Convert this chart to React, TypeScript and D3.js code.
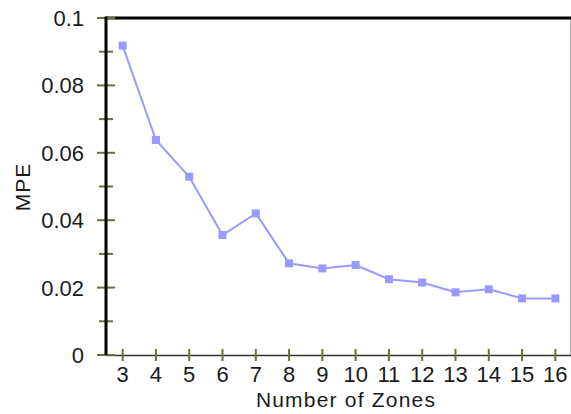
import React from "react";
import * as d3 from "d3";

const zones = [3, 4, 5, 6, 7, 8, 9, 10, 11, 12, 13, 14, 15, 16];
const mpe = [0.0918, 0.0638, 0.0529, 0.0356, 0.042, 0.0272, 0.0257, 0.0267, 0.0225, 0.0215, 0.0186, 0.0195, 0.0168, 0.0168];
const yTickLabels = [0, 0.02, 0.04, 0.06, 0.08, 0.1];
const yMinorTicks = [0.01, 0.03, 0.05, 0.07, 0.09];
const xTitle = "Number of Zones";
const yTitle = "MPE";

const W = 571;
const H = 414;
const left = 106;
const right = 572;
const top = 18;
const bottom = 355;
const font = "'Liberation Sans', Arial, sans-serif";
const tickColor = "#6e6e3e";

export default function App() {
  const x = d3.scaleLinear().domain([2.5, 16.5]).range([left, right]);
  const y = d3.scaleLinear().domain([0, 0.1]).range([bottom, top]);
  const line = d3
    .line<number>()
    .x((_, i) => x(zones[i]))
    .y((d) => y(d));
  const fmt = (v: number) => (v === 0 ? "0" : d3.format("~g")(+v.toFixed(2)));

  return (
    <svg
      width={W}
      height={H}
      style={{ position: "absolute", left: 0, top: 0, display: "block", background: "#fff" }}
    >
      {/* right border */}
      <line x1={570.5} x2={570.5} y1={top} y2={bottom} stroke="#b0b0b0" strokeWidth={1} />
      {/* bottom axis */}
      <line x1={left} x2={W} y1={bottom + 0.5} y2={bottom + 0.5} stroke="#333" strokeWidth={1.5} />
      {/* top border */}
      <line x1={left} x2={W} y1={top} y2={top} stroke="#000" strokeWidth={3} />
      {/* x ticks */}
      {zones.map((z) => (
        <g key={"xt" + z}>
          <line x1={x(z)} x2={x(z)} y1={349} y2={361} stroke={tickColor} strokeWidth={2} />
          <text
            x={x(z)}
            y={382}
            textAnchor="middle"
            fontFamily={font}
            fontSize={22}
            fill="#1a1a1a"
          >
            {z}
          </text>
        </g>
      ))}
      {/* y minor ticks */}
      {yMinorTicks.map((t) => (
        <line key={"ym" + t} x1={99} x2={113} y1={y(t)} y2={y(t)} stroke={tickColor} strokeWidth={2} />
      ))}
      {/* y major ticks + labels */}
      {yTickLabels.map((t) => (
        <g key={"yt" + t}>
          <line x1={97} x2={115} y1={y(t)} y2={y(t)} stroke={tickColor} strokeWidth={2} />
          <text
            x={84}
            y={y(t) + 8}
            textAnchor="end"
            fontFamily={font}
            fontSize={22}
            fill="#1a1a1a"
          >
            {fmt(t)}
          </text>
        </g>
      ))}
      {/* left axis */}
      <line x1={left} x2={left} y1={top - 1.5} y2={bottom} stroke="#000" strokeWidth={3} />
      {/* series */}
      <path d={line(mpe) || ""} fill="none" stroke="#9999ff" strokeWidth={2} />
      {mpe.map((v, i) => (
        <rect key={"m" + i} x={x(zones[i]) - 4} y={y(v) - 4} width={8} height={8} fill="#9999ff" />
      ))}
      {/* titles */}
      <text
        x={346}
        y={407}
        textAnchor="middle"
        fontFamily={font}
        fontSize={21}
        letterSpacing={1.2}
        fill="#1a1a1a"
      >
        {xTitle}
      </text>
      <text
        transform={`translate(30,187) rotate(-90)`}
        textAnchor="middle"
        fontFamily={font}
        fontSize={21}
        letterSpacing={1}
        fill="#1a1a1a"
      >
        {yTitle}
      </text>
    </svg>
  );
}
